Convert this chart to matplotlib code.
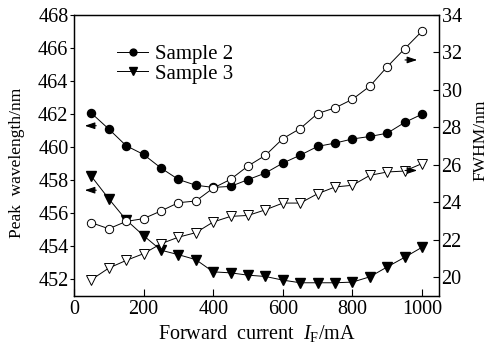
import matplotlib
matplotlib.use("Agg")
import matplotlib.pyplot as plt

plt.rcParams['font.family'] = ['Liberation Serif', 'DejaVu Serif']
plt.rcParams['mathtext.fontset'] = 'custom'
plt.rcParams['mathtext.it'] = 'Liberation Serif:italic'
plt.rcParams['mathtext.rm'] = 'Liberation Serif'

current = [50, 100, 150, 200, 250, 300, 350, 400, 450, 500,
           550, 600, 650, 700, 750, 800, 850, 900, 950, 1000]
s2_wl = [462.06, 461.1, 460.09, 459.56, 458.74, 458.05, 457.7, 457.57, 457.63, 458.04,
         458.44, 459.04, 459.52, 460.05, 460.25, 460.5, 460.65, 460.85, 461.5, 462.0]
s3_wl = [458.24, 456.88, 455.6, 454.65, 453.77, 453.5, 453.2, 452.46, 452.4, 452.26,
         452.18, 451.96, 451.8, 451.8, 451.8, 451.84, 452.16, 452.76, 453.34, 453.95]
s2_fwhm = [22.91, 22.59, 22.98, 23.13, 23.54, 23.98, 24.07, 24.76, 25.23, 25.94,
           26.51, 27.4, 27.94, 28.74, 29.04, 29.5, 30.2, 31.24, 32.2, 33.14]
s3_fwhm = [19.87, 20.49, 20.9, 21.26, 21.79, 22.14, 22.38, 22.95, 23.25, 23.3,
           23.6, 23.96, 23.96, 24.46, 24.82, 24.91, 25.44, 25.62, 25.67, 26.07]

fig = plt.figure(figsize=(4.88, 3.47), dpi=100)
ax = fig.add_axes([0.1516, 0.147, 0.7490, 0.8098])
ax2 = ax.twinx()

lw = 0.7
l2, = ax.plot(current, s2_wl, '-o', color='black', lw=lw, ms=5.8, mfc='black', mec='black', label='Sample 2')
l3, = ax.plot(current, s3_wl, '-v', color='black', lw=lw, ms=7.5, mfc='black', mec='black', label='Sample 3')
ax2.plot(current, s2_fwhm, '-o', color='black', lw=lw, ms=6, mfc='white', mec='black', mew=0.7)
ax2.plot(current, s3_fwhm, '-v', color='black', lw=lw, ms=7.5, mfc='white', mec='black', mew=0.7)

ax.set_xlim(0, 1050)
ax.set_ylim(451, 468)
ax2.set_ylim(19, 34)
ax.set_xticks([0, 200, 400, 600, 800, 1000])
ax.set_yticks(range(452, 469, 2))
ax2.set_yticks(range(20, 35, 2))

fs = 14.5
ax.tick_params(axis='y', direction='out', length=3, width=0.8, labelsize=fs, pad=1)
ax.tick_params(axis='x', direction='in', length=5, width=0.8, labelsize=fs, pad=3)
ax2.tick_params(axis='y', direction='in', length=4, width=0.8, labelsize=fs, pad=1.5)
for a in (ax, ax2):
    for s in a.spines.values():
        s.set_linewidth(0.9)

ax.set_ylabel('Peak  wavelength/nm', fontsize=12.5)
ax.yaxis.set_label_coords(-0.135, 0.475)
ax2.set_ylabel('FWHM/nm', fontsize=12.5)
ax2.yaxis.set_label_coords(1.09, 0.555)
ax.set_xlabel(r'Forward  current  $I_{\mathrm{F}}$/mA', fontsize=14.5, labelpad=2.5)

arrowprops = dict(arrowstyle='-|>,head_length=0.6,head_width=0.2', color='black', lw=0.8)
ax.annotate('', xy=(23, 461.3), xytext=(72, 461.3), arrowprops=arrowprops)
ax.annotate('', xy=(23, 457.4), xytext=(72, 457.4), arrowprops=arrowprops)
ax2.annotate('', xy=(994, 31.6), xytext=(943, 31.6), arrowprops=arrowprops)
ax2.annotate('', xy=(994, 25.7), xytext=(943, 25.7), arrowprops=arrowprops)

ax.legend(handles=[l2, l3], loc='upper left', bbox_to_anchor=(0.095, 0.925), frameon=False,
          fontsize=15, handlelength=1.5, handletextpad=0.3, labelspacing=0.0, borderaxespad=0,
          markerscale=0.85)

fig.savefig('out.png', dpi=100)
